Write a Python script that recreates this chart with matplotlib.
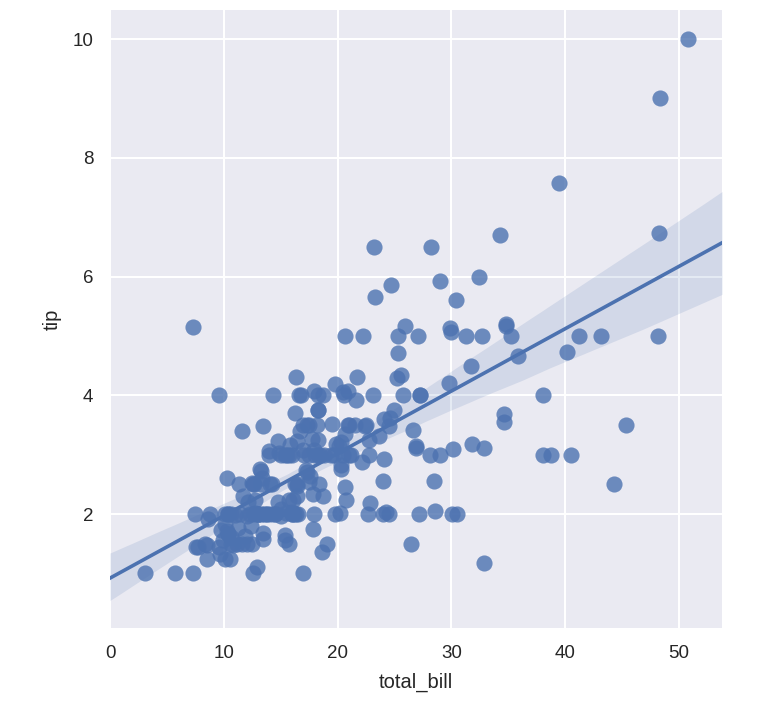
import numpy as np
import matplotlib
matplotlib.use("Agg")
import matplotlib.pyplot as plt

total_bill = [16.99, 10.34, 21.01, 23.68, 24.59, 25.29, 8.77, 26.88, 15.04, 14.78,
              10.27, 35.26, 15.42, 18.43, 14.83, 21.58, 10.33, 16.29, 16.97, 20.65,
              17.92, 20.29, 15.77, 39.42, 19.82, 17.81, 13.37, 12.69, 21.70, 19.65,
              9.55, 18.35, 15.06, 20.69, 17.78, 24.06, 16.31, 16.93, 18.69, 31.27,
              16.04, 17.46, 13.94, 9.68, 30.40, 18.29, 22.23, 32.40, 28.55, 18.04,
              12.54, 10.29, 34.81, 9.94, 25.56, 19.49, 38.01, 26.41, 11.24, 48.27,
              20.29, 13.81, 11.02, 18.29, 17.59, 20.08, 16.45, 3.07, 20.23, 15.01,
              12.02, 17.07, 26.86, 25.28, 14.73, 10.51, 17.92, 27.20, 22.76, 17.29,
              19.44, 16.66, 10.07, 32.68, 15.98, 34.83, 13.03, 18.28, 24.71, 21.16,
              28.97, 22.49, 5.75, 16.32, 22.75, 40.17, 27.28, 12.03, 21.01, 12.46,
              11.35, 15.38, 44.30, 22.42, 20.92, 15.36, 20.49, 25.21, 18.24, 14.31,
              14.00, 7.25, 38.07, 23.95, 25.71, 17.31, 29.93, 10.65, 12.43, 24.08,
              11.69, 13.42, 14.26, 15.95, 12.48, 29.80, 8.52, 14.52, 11.38, 22.82,
              19.08, 20.27, 11.17, 12.26, 18.26, 8.51, 10.33, 14.15, 16.00, 13.16,
              17.47, 34.30, 41.19, 27.05, 16.43, 8.35, 18.64, 11.87, 9.78, 7.51,
              14.07, 13.13, 17.26, 24.55, 19.77, 29.85, 48.17, 25.00, 13.39, 16.49,
              21.50, 12.66, 16.21, 13.81, 17.51, 24.52, 20.76, 31.71, 10.59, 10.63,
              50.81, 15.81, 7.25, 31.85, 16.82, 32.90, 17.89, 14.48, 9.60, 34.63,
              34.65, 23.33, 45.35, 23.17, 40.55, 20.69, 20.90, 30.46, 18.15, 23.10,
              15.69, 19.81, 28.44, 15.48, 16.58, 7.56, 10.34, 43.11, 13.00, 13.51,
              18.71, 12.74, 13.00, 16.40, 20.53, 16.47, 26.59, 38.73, 24.27, 12.76,
              30.06, 25.89, 48.33, 13.27, 28.17, 12.90, 28.15, 11.59, 7.74, 30.14,
              12.16, 13.42, 8.58, 15.98, 13.42, 16.27, 10.09, 20.45, 13.28, 22.12,
              24.01, 15.69, 11.61, 10.77, 15.53, 10.07, 12.60, 32.83, 35.83, 29.03,
              27.18, 22.67, 17.82, 18.78]
tip = [1.01, 1.66, 3.50, 3.31, 3.61, 4.71, 2.00, 3.12, 1.96, 3.23,
       1.71, 5.00, 1.57, 3.00, 3.02, 3.92, 1.67, 3.71, 3.50, 3.35,
       4.08, 2.75, 2.23, 7.58, 3.18, 2.34, 2.00, 2.00, 4.30, 3.00,
       1.45, 2.50, 3.00, 2.45, 3.27, 3.60, 2.00, 3.07, 2.31, 5.00,
       2.24, 2.54, 3.06, 1.32, 5.60, 3.00, 5.00, 6.00, 2.05, 3.00,
       2.50, 2.60, 5.20, 1.56, 4.34, 3.51, 3.00, 1.50, 1.76, 6.73,
       3.21, 2.00, 1.98, 3.76, 2.64, 3.15, 2.47, 1.00, 2.01, 2.09,
       1.97, 3.00, 3.14, 5.00, 2.20, 1.25, 3.08, 4.00, 3.00, 2.71,
       3.00, 3.40, 1.83, 5.00, 2.03, 5.17, 2.00, 4.00, 5.85, 3.00,
       3.00, 3.50, 1.00, 4.30, 3.25, 4.73, 4.00, 1.50, 3.00, 1.50,
       2.50, 3.00, 2.50, 3.48, 4.08, 1.64, 4.06, 4.29, 3.76, 4.00,
       3.00, 1.00, 4.00, 2.55, 4.00, 3.50, 5.07, 1.50, 1.80, 2.92,
       2.31, 1.68, 2.50, 2.00, 2.52, 4.20, 1.48, 2.00, 2.00, 2.18,
       1.50, 2.83, 1.50, 2.00, 3.25, 1.25, 2.00, 2.00, 2.00, 2.75,
       3.50, 6.70, 5.00, 5.00, 2.30, 1.50, 1.36, 1.63, 1.73, 2.00,
       2.50, 2.00, 2.74, 2.00, 2.00, 5.14, 5.00, 3.75, 2.61, 2.00,
       3.50, 2.50, 2.00, 2.00, 3.00, 3.48, 2.24, 4.50, 1.61, 2.00,
       10.00, 3.16, 5.15, 3.18, 4.00, 3.11, 2.00, 2.00, 4.00, 3.55,
       3.68, 5.65, 3.50, 6.50, 3.00, 5.00, 3.50, 2.00, 3.50, 4.00,
       1.50, 4.19, 2.56, 2.02, 4.00, 1.44, 2.00, 5.00, 2.00, 2.00,
       4.00, 2.01, 2.00, 2.50, 4.00, 3.23, 3.41, 3.00, 2.03, 2.23,
       2.00, 5.16, 9.00, 2.50, 6.50, 1.10, 3.00, 1.50, 1.44, 3.09,
       2.20, 3.48, 1.92, 3.00, 1.58, 2.50, 2.00, 3.00, 2.72, 2.88,
       2.00, 3.00, 3.39, 1.47, 3.00, 1.25, 1.00, 1.17, 4.67, 5.92,
       2.00, 2.00, 1.75, 3.00]
x_ticks = [0, 10, 20, 30, 40, 50]
y_ticks = [2, 4, 6, 8, 10]

plt.rcParams['font.family'] = ['Liberation Sans', 'DejaVu Sans']
color = "#4C72B0"

x = np.array(total_bill)
y = np.array(tip)

fig = plt.figure(figsize=(7.64, 7.16), dpi=100)
ax = fig.add_axes([110/764, 88/716, 612/764, 618/716])
ax.set_facecolor("#EAEAF2")
for s in ax.spines.values():
    s.set_visible(False)
ax.grid(True, color="white", linewidth=1.5)
ax.set_axisbelow(True)

ax.scatter(x, y, s=135, color=color, alpha=0.8, linewidths=0, zorder=3)

xlim = (0, 53.78)
ylim = (0.08, 10.49)
grid = np.linspace(xlim[0], xlim[1], 200)
n = len(x)
b, a = np.polyfit(x, y, 1)
yhat = a + b * grid

# bootstrap confidence band, as seaborn's regplot does (95%, 1000 resamples)
rng = np.random.default_rng(7)
boots = np.empty((1000, grid.size))
for i in range(1000):
    idx = rng.integers(0, n, n)
    bb, aa = np.polyfit(x[idx], y[idx], 1)
    boots[i] = aa + bb * grid
lo, hi = np.percentile(boots, [2.5, 97.5], axis=0)
ax.fill_between(grid, lo, hi, color=color, alpha=0.15, linewidth=0, zorder=2)
ax.plot(grid, yhat, color=color, linewidth=2.6, zorder=4)

ax.set_xlim(*xlim)
ax.set_ylim(*ylim)
ax.set_xticks(x_ticks)
ax.set_yticks(y_ticks)
ax.tick_params(length=0, pad=12, labelsize=13.5, labelcolor="#262626")
ax.set_xlabel("total_bill", fontsize=14.5, color="#262626", labelpad=8)
ax.set_ylabel("tip", fontsize=14.5, color="#262626", labelpad=8)

fig.savefig("out.png", dpi=100)
